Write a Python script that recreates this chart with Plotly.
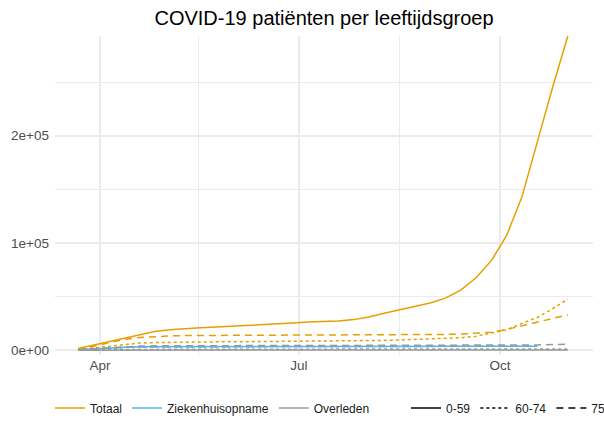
import plotly.graph_objects as go
import pandas as pd

# weekly (sunday) dates
datums = pd.date_range("2020-03-22", "2020-11-01", freq="7D")

totaal_0_59 = [1500, 4700, 8000, 11800, 15000, 17500, 19000, 20200, 21000, 21700,
               22300, 23000, 23700, 24500, 25300, 26200, 26700, 27300, 28500, 31000,
               34500, 37800, 41000, 44000, 48500, 56000, 67500, 83500, 107000, 143000,
               194000, 245000, 293000]
totaal_60_74 = [500, 2000, 3800, 5500, 6600, 7100, 7400, 7600, 7700, 7800,
                7900, 7900, 8000, 8000, 8100, 8100, 8200, 8300, 8500, 8800,
                9100, 9500, 9900, 10300, 10800, 11600, 13000, 15800, 19000, 25000,
                30500, 38700, 47600]
totaal_75 = [800, 3500, 7000, 10000, 11800, 12800, 13300, 13600, 13800, 13900,
             13900, 14000, 14000, 14000, 14000, 14100, 14100, 14100, 14200, 14200,
             14300, 14300, 14400, 14500, 14700, 15000, 15600, 16800, 19300, 22800,
             26500, 30000, 33000]

# ziekenhuisopname loopt tot 18 okt
zkh_0_59 = [300, 1200, 2200, 2800, 3100, 3200, 3250, 3300, 3300, 3300,
            3350, 3350, 3350, 3400, 3400, 3400, 3400, 3400, 3400, 3400,
            3400, 3400, 3450, 3450, 3450, 3500, 3500, 3550, 3600, 3650, 3750]
zkh_60_74 = [200, 1000, 2000, 2700, 3000, 3100, 3200, 3250, 3250, 3300,
             3300, 3300, 3300, 3350, 3350, 3350, 3350, 3350, 3350, 3350,
             3350, 3350, 3400, 3400, 3400, 3450, 3450, 3500, 3550, 3600, 3700]
zkh_75 = [250, 1100, 2100, 2750, 3050, 3150, 3200, 3250, 3300, 3300,
          3300, 3350, 3350, 3350, 3350, 3400, 3400, 3400, 3400, 3400,
          3400, 3400, 3400, 3450, 3450, 3450, 3500, 3550, 3600, 3650, 3700]

overl_0_59 = [20, 60, 100, 130, 150, 160, 170, 175, 180, 180,
              180, 180, 180, 180, 185, 185, 185, 185, 185, 185,
              185, 185, 185, 190, 190, 190, 195, 200, 210, 220,
              230, 250, 270]
overl_60_74 = [80, 300, 550, 700, 780, 820, 840, 850, 860, 860,
               860, 865, 865, 865, 865, 865, 870, 870, 870, 870,
               870, 870, 875, 875, 880, 885, 895, 910, 940, 980,
               1030, 1100, 1180]
overl_75 = [200, 1000, 2200, 3200, 3800, 4100, 4200, 4250, 4300, 4300,
            4300, 4300, 4300, 4300, 4300, 4300, 4300, 4300, 4300, 4300,
            4300, 4300, 4300, 4300, 4350, 4350, 4400, 4450, 4550, 4700,
            4900, 5200, 5600]

groepen = ["Totaal", "Ziekenhuisopname", "Overleden"]
kleuren = {"Totaal": "#E69F00", "Ziekenhuisopname": "#56B4E9", "Overleden": "#999999"}
leeftijden = ["0-59", "60-74", "75+"]
lijnen = {"0-59": "solid", "60-74": "3px,3px", "75+": "7px,5px"}

reeksen = {
    ("Totaal", "0-59"): totaal_0_59,
    ("Totaal", "60-74"): totaal_60_74,
    ("Totaal", "75+"): totaal_75,
    ("Ziekenhuisopname", "0-59"): zkh_0_59,
    ("Ziekenhuisopname", "60-74"): zkh_60_74,
    ("Ziekenhuisopname", "75+"): zkh_75,
    ("Overleden", "0-59"): overl_0_59,
    ("Overleden", "60-74"): overl_60_74,
    ("Overleden", "75+"): overl_75,
}

fig = go.Figure()

for groep in groepen:
    for leeftijd in leeftijden:
        y = reeksen[(groep, leeftijd)]
        fig.add_trace(go.Scatter(
            x=datums[:len(y)], y=y, mode="lines",
            name=groep, legendgroup=groep,
            showlegend=(leeftijd == "0-59"),
            line=dict(color=kleuren[groep], dash=lijnen[leeftijd], width=1.5),
            hoverinfo="skip",
        ))

# linetype legenda
for leeftijd in leeftijden:
    fig.add_trace(go.Scatter(
        x=[None], y=[None], mode="lines", name=leeftijd, legend="legend2",
        line=dict(color="black", dash=lijnen[leeftijd], width=1.5),
    ))

grid = "#EBEBEB"
fig.update_layout(
    width=604, height=421,
    margin=dict(l=55, r=11, t=36, b=66),
    plot_bgcolor="white", paper_bgcolor="white",
    font=dict(family="Liberation Sans, Arial, sans-serif", size=12, color="#1A1A1A"),
    title=dict(text="COVID-19 patiënten per leeftijdsgroep", x=0.5, xref="paper",
               y=1 - 18 / 421, yref="container", yanchor="middle",
               font=dict(size=20, color="black")),
    legend=dict(orientation="h", xref="container", x=50 / 604, yref="container",
                y=13 / 421, yanchor="middle", xanchor="left",
                font=dict(size=12, color="#1A1A1A"), itemwidth=30),
    legend2=dict(orientation="h", xref="container", x=406 / 604, yref="container",
                 y=13 / 421, yanchor="middle", xanchor="left",
                 font=dict(size=12, color="#1A1A1A"), itemwidth=30),
    showlegend=True,
)

fig.update_xaxes(
    range=["2020-03-11 10:00", "2020-11-12 12:00"],
    tickvals=["2020-04-01", "2020-07-01", "2020-10-01"],
    ticktext=["Apr", "Jul", "Oct"],
    showgrid=True, gridcolor=grid, gridwidth=1.5, zeroline=False, showline=False,
    ticks="", tickfont=dict(size=13.5, color="#4D4D4D"),
    minor=dict(tickvals=["2020-05-16", "2020-08-16"], showgrid=True, gridcolor=grid, gridwidth=1),
)
fig.update_yaxes(
    range=[-4500, 293000],
    tickvals=[0, 100000, 200000],
    ticktext=["0e+00", "1e+05", "2e+05"],
    showgrid=True, gridcolor=grid, gridwidth=1.5, zeroline=False, showline=False,
    ticks="", tickfont=dict(size=13.5, color="#4D4D4D"), ticklabelstandoff=5,
    minor=dict(tickvals=[50000, 150000, 250000], showgrid=True, gridcolor=grid, gridwidth=1),
)

# body marge van de pagina weghalen, geen modebar
fig.write_html("out.html", config={"displayModeBar": False},
               post_script="document.body.style.margin='0';")
